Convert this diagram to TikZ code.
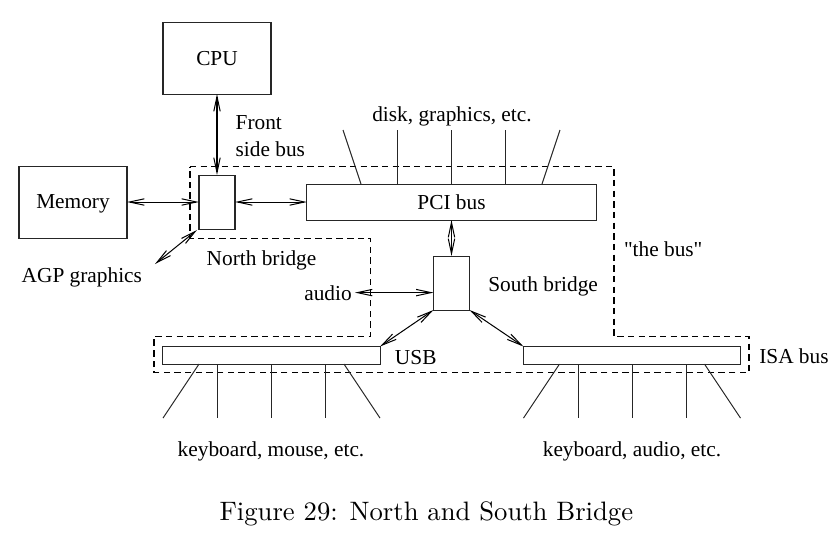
\documentclass[tikz,border=0pt]{standalone}
\usepackage{fontspec}
\newfontfamily\figfont{Liberation Serif}
\usetikzlibrary{arrows.meta}
\begin{document}
\begin{tikzpicture}[x=0.375pt,y=-0.375pt,
  box/.style={draw=black!85, line width=0.38pt, inner sep=0pt, outer sep=0pt, text depth=0pt,
    font=\figfont\fontsize{8pt}{10pt}\selectfont},
  lbl/.style={inner sep=0pt, outer sep=0pt, font=\figfont\fontsize{8pt}{10.1pt}\selectfont},
  link/.style={line width=0.38pt,
    {Straight Barb[length=5.6pt,width=2.4pt]}-{Straight Barb[length=5.6pt,width=2.4pt]}},
  legline/.style={line width=0.36pt, black!85},
  busline/.style={line width=0.38pt, dash pattern=on 2.4pt off 1.6pt}]
\useasboundingbox (0,0) rectangle (838,546);

% boxes
\node[box, minimum width=40.5pt, minimum height=27pt] (cpu) at (217,58) {CPU};
\node[box, minimum width=40.5pt, minimum height=27pt] (memory) at (73,202) {Memory};
\node[box, minimum width=13.5pt, minimum height=20.25pt] (north) at (217,202) {};
\node[box, minimum width=108.4pt, minimum height=13.5pt] (pci) at (451.5,202) {PCI bus};
\node[box, minimum width=13.5pt, minimum height=20.25pt] (south) at (451.5,283) {};
\node[box, minimum width=81.4pt, minimum height=6.6pt] (usb) at (271.5,355.3) {};
\node[box, minimum width=81.4pt, minimum height=6.6pt] (isa) at (632,355.3) {};

% dashed outline of "the bus"
\draw[busline] (190,166.5) -- (614,166.5) -- (614,336.5) -- (749,336.5) -- (749,372.5)
  -- (154,372.5) -- (154,336.5) -- (370.5,336.5) -- (370.5,238) -- (190,238) -- cycle;

% labels
\node[lbl, anchor=base west, align=left] (fsb) at (235.7,156.7) {Front\\side bus};
\node[lbl, anchor=base west] (nblbl) at (206.7,265) {North bridge};
\node[lbl, anchor=base west] (agp) at (21.7,282.7) {AGP graphics};
\node[lbl, anchor=base east] (audio) at (351.7,300.7) {audio};
\node[lbl, anchor=base] (disk) at (452,121) {disk, graphics, etc.};
\node[lbl, anchor=base west] (sblbl) at (488.3,291.7) {South bridge};
\node[lbl, anchor=base west] (thebus) at (624,256) {"the bus"};
\node[lbl, anchor=base west] (usblbl) at (395,364) {USB};
\node[lbl, anchor=base west] (isalbl) at (759.3,363.3) {ISA bus};
\node[lbl, anchor=base] (kbm) at (271,456.7) {keyboard, mouse, etc.};
\node[lbl, anchor=base] (kba) at (632,456.7) {keyboard, audio, etc.};
\node[anchor=base west, inner sep=0pt, font=\fontsize{10pt}{12pt}\selectfont] (caption)
  at (219,520) {Figure 29: North and South Bridge};

\coordinate (agpend) at (155,264);
\coordinate (audioend) at ([xshift=1.2pt, yshift=0.3pt]audio.east);

% connectors
\draw[link] (cpu.south) -- (north.north);
\draw[link] (memory.east) -- (north.west);
\draw[link] (north.east) -- (pci.west);
\draw[link] ([shift={(-2,1)}]north.south west) -- (agpend);
\draw[link] (pci.south) -- (south.north);
\draw[link] (audioend) -- (south.west |- audioend);
\draw[link] (south.south west) -- (usb.north east);
\draw[link] (south.south east) -- (isa.north west);

% bus legs
\foreach \b/\t in {-90.5/-108.5, -54/-54, 0/0, 54/54, 90.5/108.5}
  \draw[legline] ([xshift=\b*0.375pt]pci.north) -- ([xshift=\t*0.375pt, yshift=54*0.375pt]pci.north);
\foreach \b/\t in {-72.5/-108.5, -54/-54, 0/0, 54/54, 72.5/108.5}{
  \draw[legline] ([xshift=\b*0.375pt]usb.south) -- ([xshift=\t*0.375pt, yshift=-54*0.375pt]usb.south);
  \draw[legline] ([xshift=\b*0.375pt]isa.south) -- ([xshift=\t*0.375pt, yshift=-54*0.375pt]isa.south);
}
\end{tikzpicture}
\end{document}
